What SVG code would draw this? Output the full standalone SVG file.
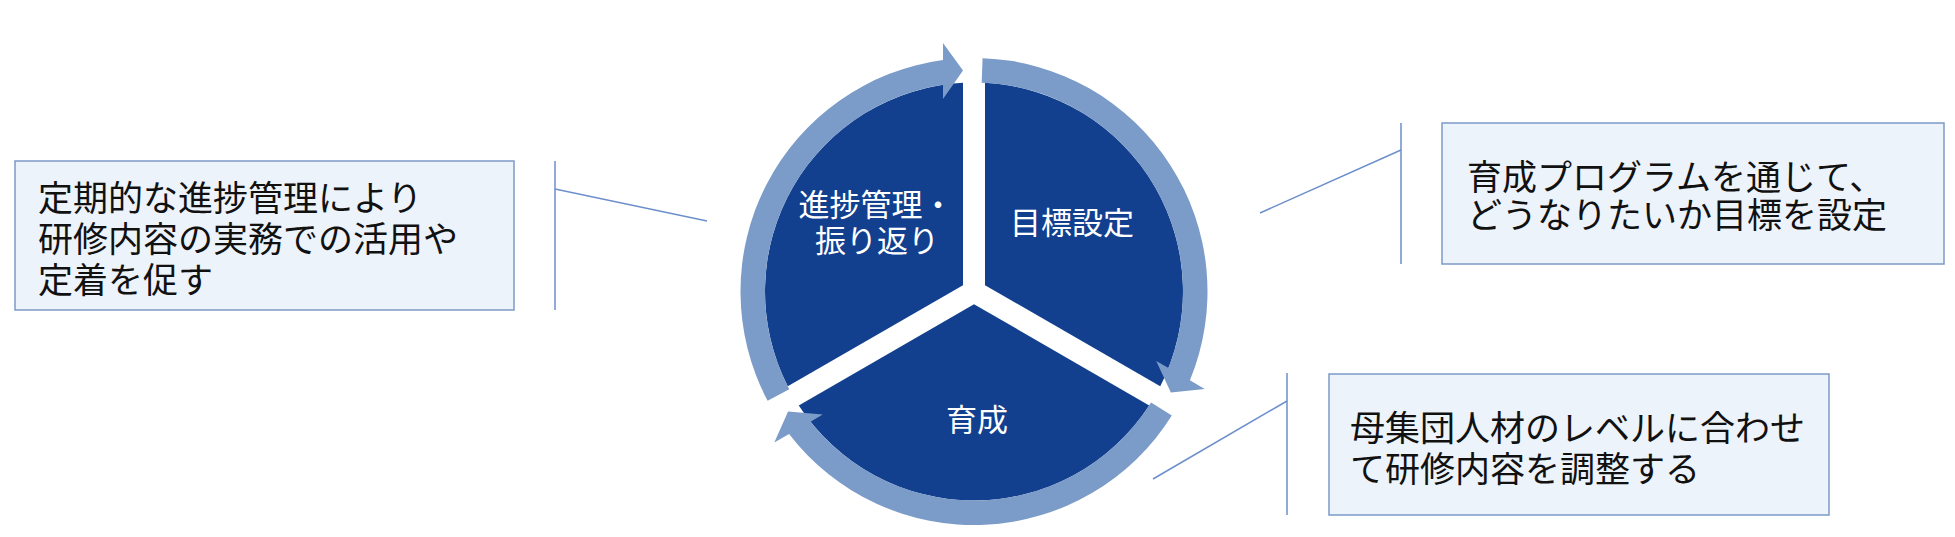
<svg xmlns="http://www.w3.org/2000/svg" width="1955" height="537" viewBox="0 0 1955 537">
<style>
.seg{fill:#12408F}
.ring{fill:#7B9BC8}
.lbl{font-family:"Noto Sans CJK JP","Noto Sans",sans-serif;font-size:31px;fill:#FFFFFF;text-anchor:middle}
.box{fill:#EDF3FA;stroke:#7C9AC9;stroke-width:1.5}
.btx{font-family:"Noto Sans CJK JP","Noto Sans",sans-serif;font-size:35px;fill:#111111}
.con{stroke:#6C8FCB;stroke-width:1.5;fill:none}
</style>
<defs>
<path id="segShape" d="M963,285.15 L963,82.79 A209,209 0 0 0 787.75,386.33 Z"/>
<path id="arcShape" d="M767.63,400.75 A233.5,233.5 0 0 1 943,60.07 L943,43 L963,70.5 L943,99 L943,84.81 A209,209 0 0 0 789.29,389.29 Z"/>
</defs>
<rect width="1955" height="537" fill="#FFFFFF"/>
<g id="cycle">
<g id="node-shinchoku">
<use href="#segShape" class="seg"/>
<use href="#arcShape" class="ring"/>
<text class="lbl" x="876" y="216">進捗管理・</text>
<text class="lbl" x="877" y="252">振り返り</text>
</g>
<g id="node-mokuhyo">
<use href="#segShape" class="seg" transform="rotate(120 974 291.5)"/>
<use href="#arcShape" class="ring" transform="rotate(120 974 291.5)"/>
<text class="lbl" x="1072" y="234">目標設定</text>
</g>
<g id="node-ikusei">
<use href="#segShape" class="seg" transform="rotate(240 974 291.5)"/>
<use href="#arcShape" class="ring" transform="rotate(240 974 291.5)"/>
<text class="lbl" x="977" y="431">育成</text>
</g>
</g>
<g id="connectors">
<line class="con" x1="555" y1="161" x2="555" y2="310"/>
<line class="con" x1="555" y1="189" x2="707" y2="221"/>
<line class="con" x1="1401" y1="123" x2="1401" y2="264"/>
<line class="con" x1="1401" y1="150" x2="1260" y2="213"/>
<line class="con" x1="1287" y1="373" x2="1287" y2="515"/>
<line class="con" x1="1287" y1="401" x2="1153" y2="479"/>
</g>
<g id="note-left">
<rect class="box" x="15" y="161" width="499" height="149"/>
<text class="btx" x="38" y="211">定期的な進捗管理により</text>
<text class="btx" x="38" y="252">研修内容の実務での活用や</text>
<text class="btx" x="38" y="293">定着を促す</text>
</g>
<g id="note-top-right">
<rect class="box" x="1442" y="123" width="502" height="141"/>
<text class="btx" x="1467" y="190">育成プログラムを通じて、</text>
<text class="btx" x="1467" y="228">どうなりたいか目標を設定</text>
</g>
<g id="note-bottom">
<rect class="box" x="1329" y="374" width="500" height="141"/>
<text class="btx" x="1350" y="441">母集団人材のレベルに合わせ</text>
<text class="btx" x="1350" y="482">て研修内容を調整する</text>
</g>
</svg>
